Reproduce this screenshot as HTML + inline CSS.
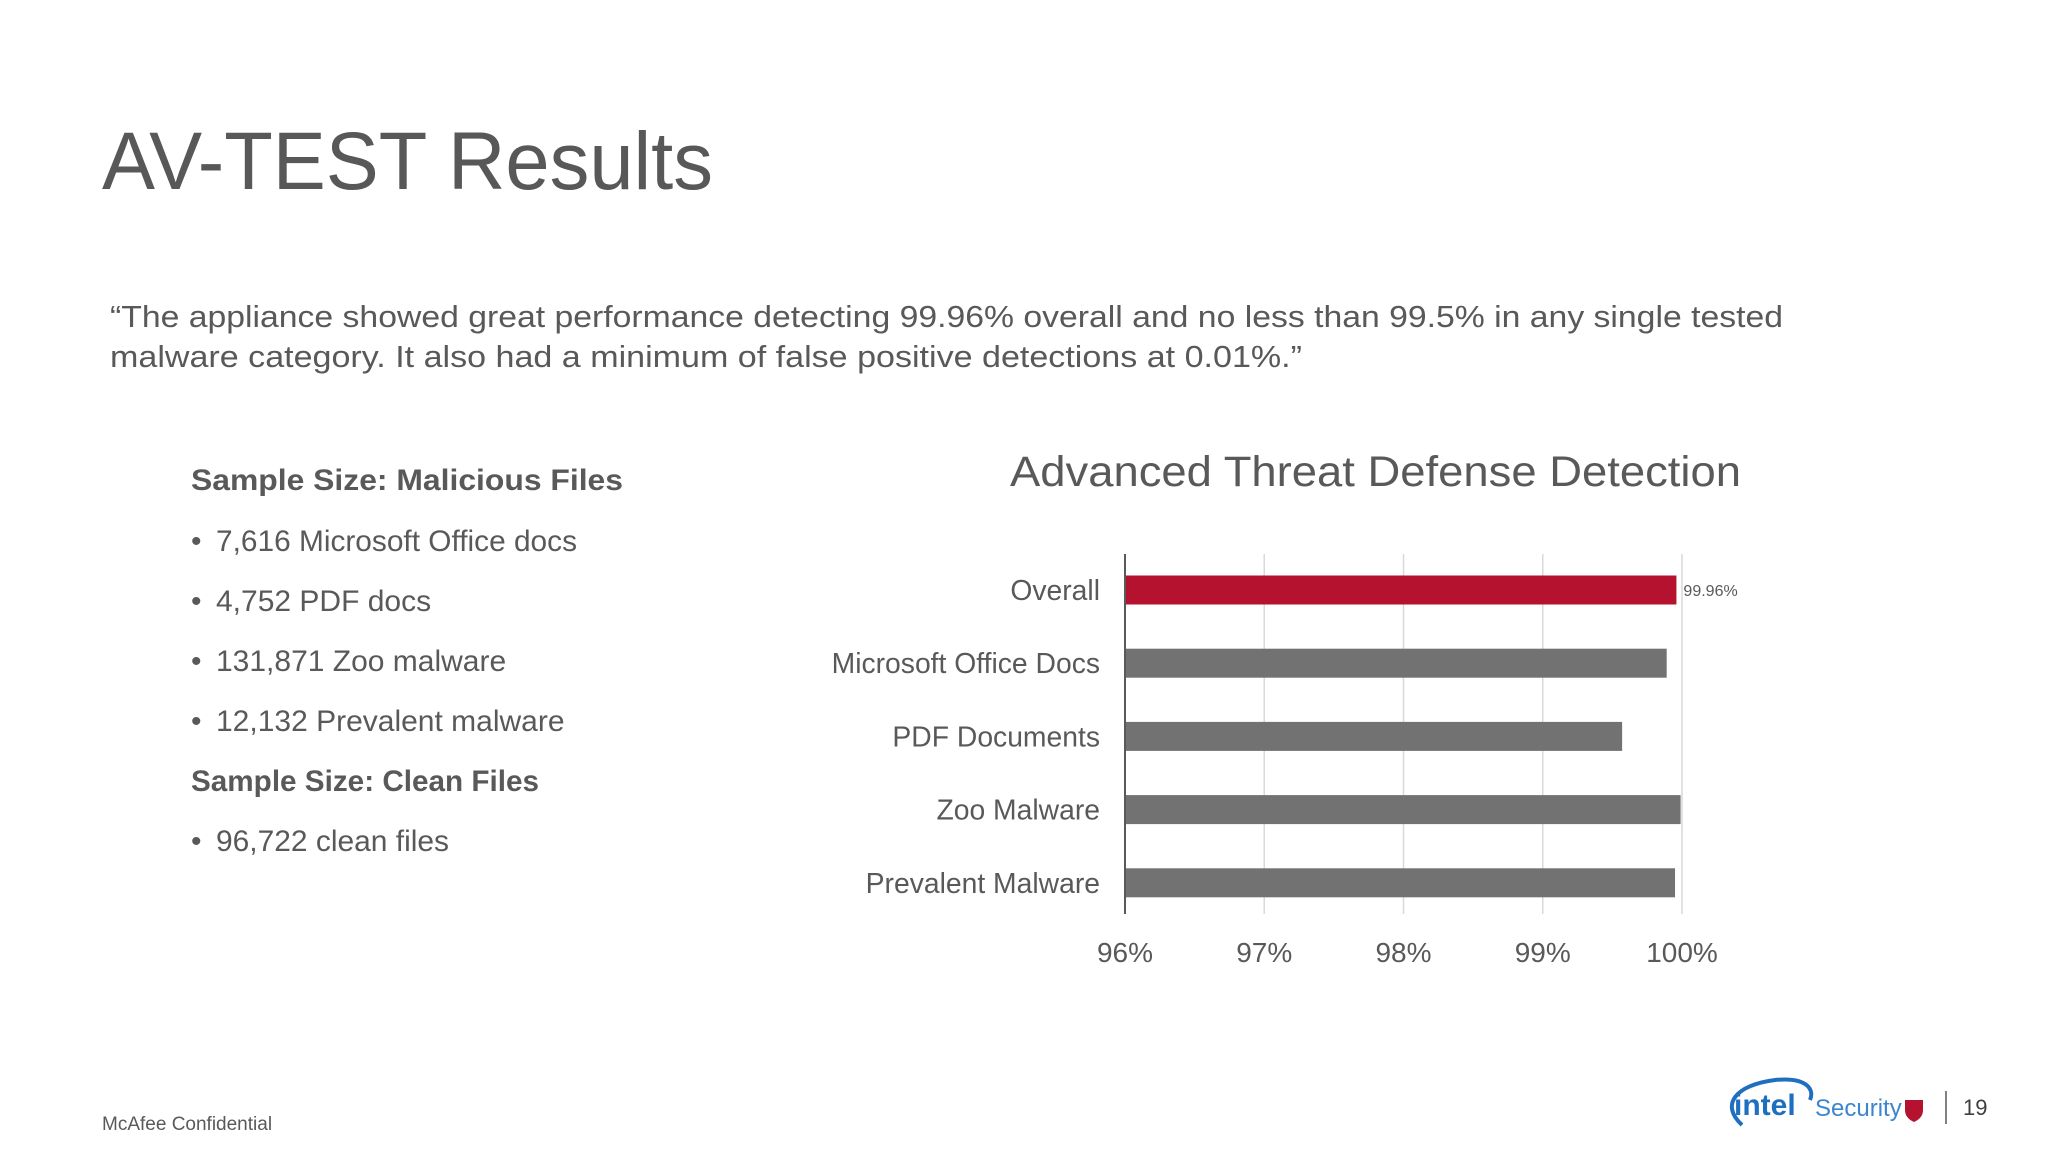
<!DOCTYPE html>
<html><head><meta charset="utf-8"><style>
html,body{margin:0;padding:0;background:#fff;}
svg{display:block;font-family:"Liberation Sans",Arial,sans-serif;}
</style></head><body>
<svg id="s" width="2048" height="1152" viewBox="0 0 2048 1152" xmlns="http://www.w3.org/2000/svg">
<text x="102" y="189" font-size="82" fill="#585858" textLength="611" lengthAdjust="spacingAndGlyphs">AV-TEST Results</text>
<g fill="#595959" font-size="31">
<text x="110" y="327" textLength="1673" lengthAdjust="spacingAndGlyphs">“The appliance showed great performance detecting 99.96% overall and no less than 99.5% in any single tested</text>
<text x="110" y="367" textLength="1192" lengthAdjust="spacingAndGlyphs">malware category. It also had a minimum of false positive detections at 0.01%.”</text>
</g>
<g fill="#595959" font-size="30">
<text x="191" y="490" font-weight="bold" textLength="432" lengthAdjust="spacingAndGlyphs">Sample Size: Malicious Files</text>
<text x="191" y="551">•</text><text x="216" y="551" textLength="361" lengthAdjust="spacingAndGlyphs">7,616 Microsoft Office docs</text>
<text x="191" y="611">•</text><text x="216" y="611">4,752 PDF docs</text>
<text x="191" y="671">•</text><text x="216" y="671">131,871 Zoo malware</text>
<text x="191" y="731">•</text><text x="216" y="731">12,132 Prevalent malware</text>
<text x="191" y="791" font-weight="bold" textLength="348" lengthAdjust="spacingAndGlyphs">Sample Size: Clean Files</text>
<text x="191" y="851">•</text><text x="216" y="851" textLength="233" lengthAdjust="spacingAndGlyphs">96,722 clean files</text>
</g>
<text x="1010" y="486" font-size="43" fill="#595959" textLength="731" lengthAdjust="spacingAndGlyphs">Advanced Threat Defense Detection</text>
<g id="chart"></g>
<text x="102" y="1130" font-size="19" fill="#595959">McAfee Confidential</text>
<g>
<path d="M1742 1125 C1720 1105 1735 1085 1775 1080 C1805 1077 1815 1088 1810 1100" fill="none" stroke="#1f6fc1" stroke-width="4"/>
<text x="1734" y="1115" font-size="30" font-weight="bold" fill="#1f6fc1">intel</text>
<text x="1815" y="1116" font-size="24" fill="#3a86cf">Security</text>
<path d="M1905 1100 h18 v10 q0 8 -9 12 q-9 -4 -9 -12z" fill="#b5122f"/>
</g>
<line x1="1946" y1="1091" x2="1946" y2="1124" stroke="#595959" stroke-width="1.5"/>
<text x="1963" y="1115" font-size="22" fill="#404040">19</text>
</svg>
<script>
const categories = ["Overall","Microsoft Office Docs","PDF Documents","Zoo Malware","Prevalent Malware"];
const values = [99.96, 99.89, 99.57, 99.99, 99.95];
const tickValues = [96, 97, 98, 99, 100];
const tickLabels = ["96%","97%","98%","99%","100%"];
const valueLabels = ["99.96%"];

const NS = "http://www.w3.org/2000/svg";
const g = document.getElementById('chart');
const x0 = 1125, x1 = 1682, yTop = 554, yBot = 914;
const xMin = 96, xMax = 100;
function xs(v){ return x0 + (v - xMin) / (xMax - xMin) * (x1 - x0); }
const band = 73.2;
function yc(i){ return 590 + band * i; }
function mk(tag, attrs){ const e = document.createElementNS(NS, tag); for (const k in attrs) e.setAttribute(k, attrs[k]); g.appendChild(e); return e; }

tickValues.forEach((t, i) => {
  if (i > 0) {
    const gl = mk('line', {x1: xs(t), x2: xs(t), y1: yTop, y2: yBot, stroke: '#d9d9d9', 'stroke-width': 1.5});
    
    
  }
  const tl = mk('text', {x: xs(t), y: 962, 'font-size': 28, fill: '#595959', 'text-anchor': 'middle'});
  tl.textContent = tickLabels[i];
  
  
});
categories.forEach((c, i) => {
  const b = mk('rect', {x: x0, y: yc(i) - 14.5, width: xs(values[i]) - x0, height: 29, fill: i === 0 ? '#b5122f' : '#737273'});
  
  
  const l = mk('text', {x: 1100, y: yc(i) + 10, 'font-size': 28.3, fill: '#595959', 'text-anchor': 'end'});
  l.textContent = c;
  
  
  if (i < valueLabels.length) {
    const v = mk('text', {x: xs(values[i]) + 7, y: yc(i) + 6, 'font-size': 16, fill: '#595959'});
    v.textContent = valueLabels[i];
    
    
  }
});
const ax = mk('line', {x1: x0, x2: x0, y1: yTop, y2: yBot, stroke: '#595959', 'stroke-width': 2});


</script>
</body></html>
